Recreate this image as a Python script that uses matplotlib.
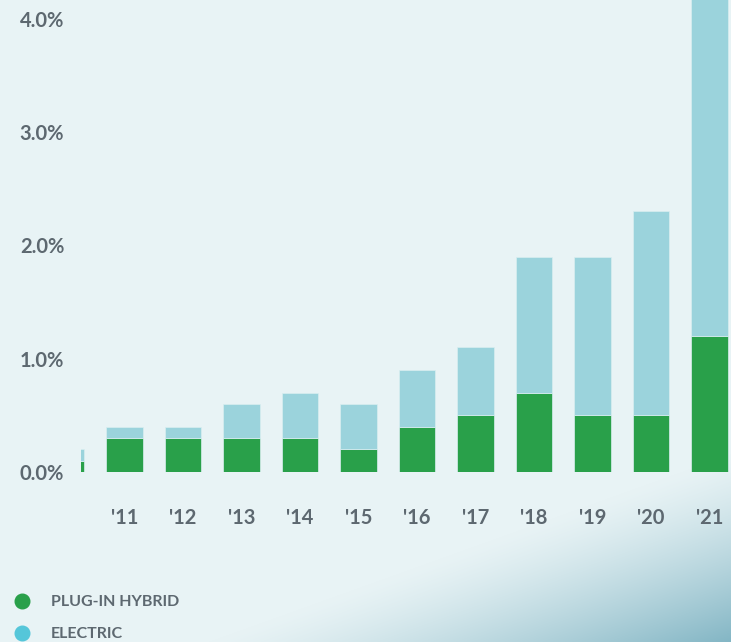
import numpy as np
import matplotlib
matplotlib.use("Agg")
import matplotlib.pyplot as plt
from matplotlib.lines import Line2D
from matplotlib.colors import to_rgb

plt.rcParams['font.family'] = ['Lato', 'DejaVu Sans']

# data (share of new car sales, %)
years = ["'10", "'11", "'12", "'13", "'14", "'15", "'16", "'17", "'18", "'19", "'20", "'21"]
plugin_hybrid = [0.1, 0.3, 0.3, 0.3, 0.3, 0.2, 0.4, 0.5, 0.7, 0.5, 0.5, 1.2]
electric = [0.1, 0.1, 0.1, 0.3, 0.4, 0.4, 0.5, 0.6, 1.2, 1.4, 1.8, 3.2]
yticks = [0.0, 1.0, 2.0, 3.0, 4.0]

green = "#29a04a"
light_blue = "#9bd3dc"
dot_blue = "#55c6d9"
text_col = "#5d6870"

W, H = 731, 642
fig = plt.figure(figsize=(W / 100, H / 100), dpi=100)

# background: pale with a soft teal shade toward the lower right
bg = fig.add_axes([0, 0, 1, 1], zorder=-10)
yy, xx = np.mgrid[0:H, 0:W]
nx, ny = 162 / 479.2, 451 / 479.2
dist = (xx - 280.0) * nx + (yy - 642.0) * ny
t = np.clip((dist + 25) / 230, 0, 1) ** 1.3
c0 = np.array(to_rgb("#e8f3f5"))
c1 = np.array(to_rgb("#5a9db1"))
img = c0 + (c1 - c0) * t[..., None]
bg.imshow(img, aspect="auto", extent=[0, 1, 0, 1], origin="upper")
bg.axis("off")

# main axes
left_px, right_px, zero_px = 81, 731, 472
ax = fig.add_axes([left_px / W, (H - zero_px) / H, (right_px - left_px) / W, zero_px / H])
ax.patch.set_alpha(0)

x = np.arange(len(years))
width = 0.63
ax.bar(x, plugin_hybrid, width, color=green, edgecolor="#d9eef0", linewidth=0.5)
ax.bar(x, electric, width, bottom=plugin_hybrid, color=light_blue,
       edgecolor="#d9eef0", linewidth=0.5)

ax.set_xlim(1 - 43.5 / 58.5, 11 + 21.5 / 58.5)
ax.set_ylim(0, 4.165)
ax.set_xticks(x[1:])
ax.set_xticklabels(years[1:])
ax.set_yticks(yticks)
ax.set_yticklabels([f"{v:.1f}%" for v in yticks])
ax.tick_params(length=0, labelsize=14.5, labelcolor=text_col)
ax.tick_params(axis="y", pad=12)
ax.tick_params(axis="x", pad=26)
for lab in ax.get_xticklabels() + ax.get_yticklabels():
    lab.set_fontweight("bold")
for s in ax.spines.values():
    s.set_visible(False)

# legend
for yl, col, name in [(601, green, "PLUG-IN HYBRID"), (633, dot_blue, "ELECTRIC")]:
    fig.add_artist(Line2D([22 / W], [(H - yl) / H], marker="o", markersize=10.5,
                          color=col, linestyle="none", transform=fig.transFigure))
    fig.text(51 / W, (H - yl - 1) / H, name, fontsize=11.5, fontweight="bold",
             color=text_col, va="center", ha="left")

fig.savefig("out.png", dpi=100)
